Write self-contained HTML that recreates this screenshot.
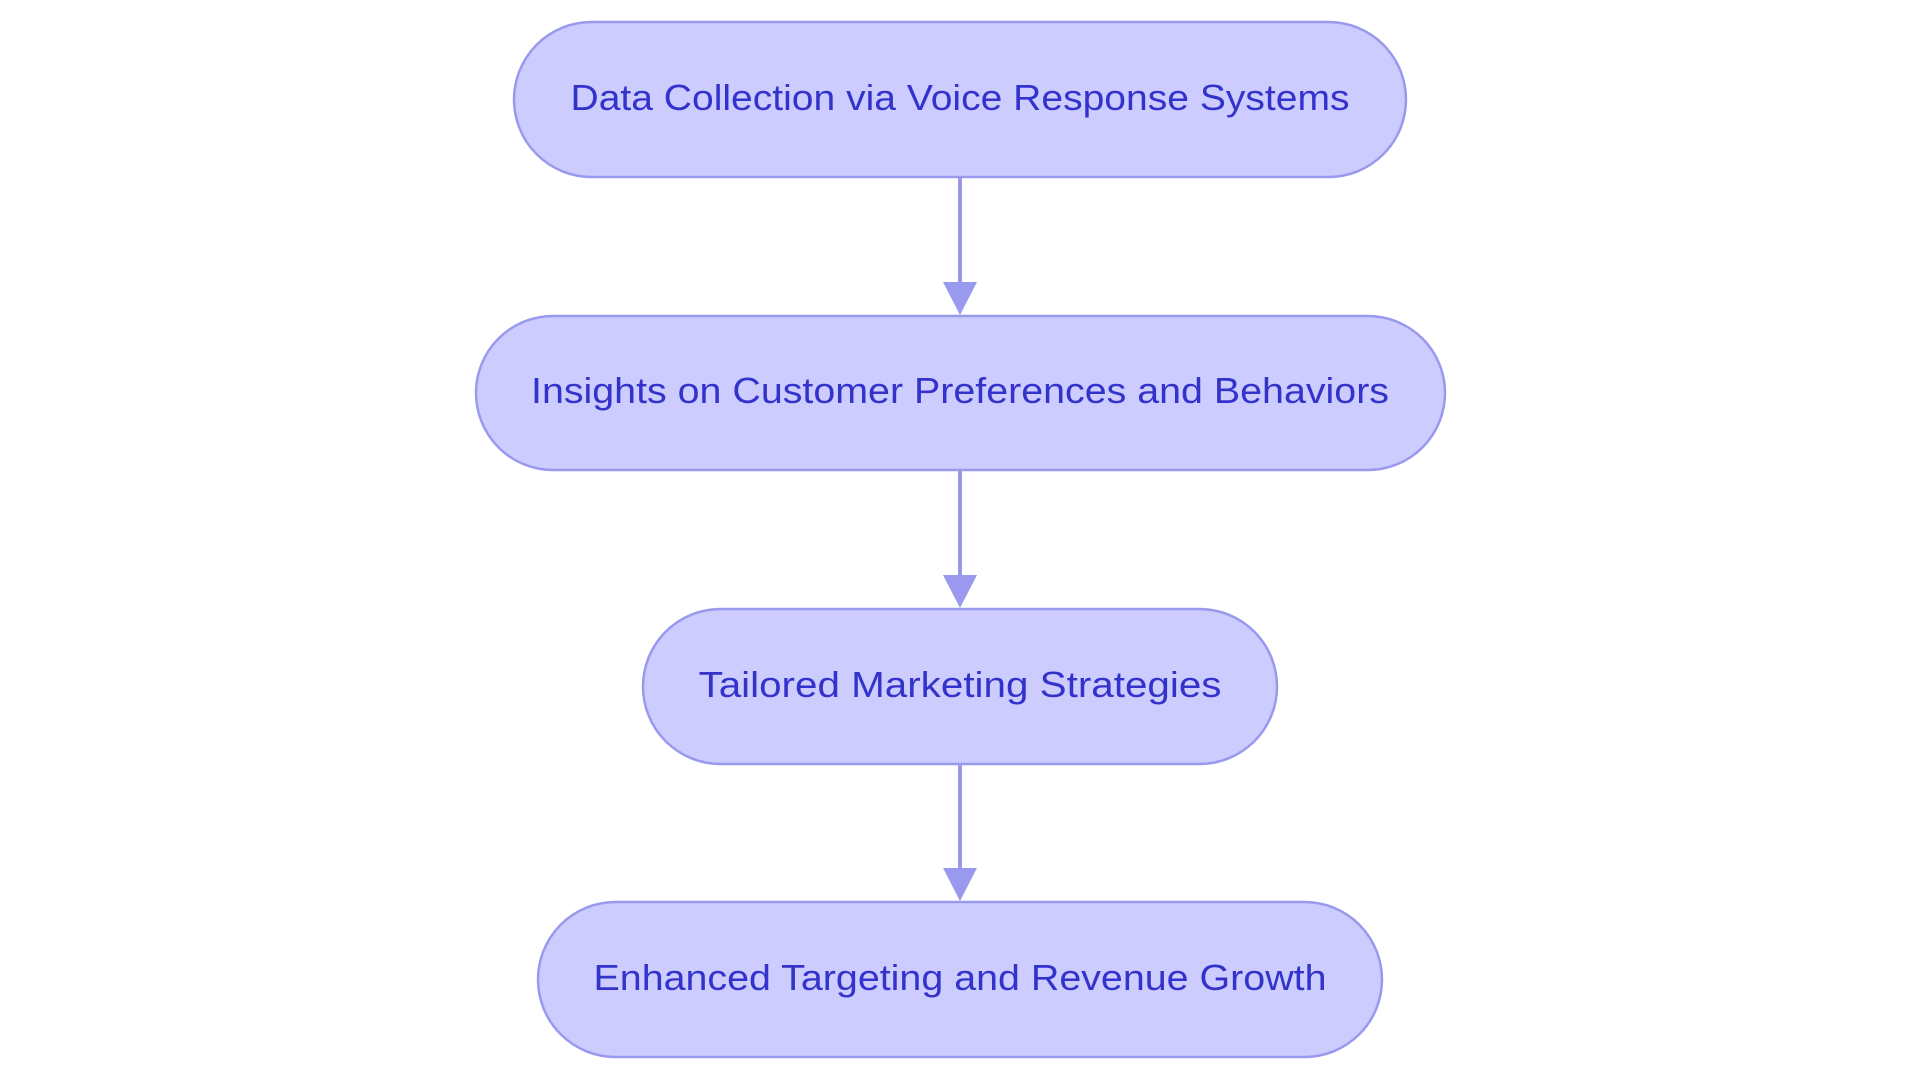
<!DOCTYPE html>
<html><head><meta charset="utf-8"><style>html,body{margin:0;padding:0;background:#fff}svg{display:block}</style></head>
<body>
<svg width="1920" height="1083" viewBox="0 0 1920 1083" xmlns="http://www.w3.org/2000/svg">
<g fill="#ccccff" stroke="#9999ee" stroke-width="2.5">
<rect x="514" y="22" width="892" height="155" rx="77.5"/>
<rect x="476" y="316" width="969" height="154" rx="77"/>
<rect x="643" y="609" width="634" height="155" rx="77.5"/>
<rect x="538" y="902" width="844" height="155" rx="77.5"/>
</g>
<g stroke="#9999ee" stroke-width="4">
<line x1="960" y1="178" x2="960" y2="285"/>
<line x1="960" y1="471" x2="960" y2="578"/>
<line x1="960" y1="765" x2="960" y2="872"/>
</g>
<g fill="#9999ee">
<polygon points="943,282 977,282 960,315"/>
<polygon points="943,575 977,575 960,608"/>
<polygon points="943,868 977,868 960,901"/>
</g>
<g font-family="Liberation Sans, sans-serif" font-size="36" fill="#3333cc" text-anchor="middle" lengthAdjust="spacingAndGlyphs">
<text x="960" y="110" textLength="779" lengthAdjust="spacingAndGlyphs">Data Collection via Voice Response Systems</text>
<text x="960" y="403" textLength="858" lengthAdjust="spacingAndGlyphs">Insights on Customer Preferences and Behaviors</text>
<text x="960" y="697" textLength="523" lengthAdjust="spacingAndGlyphs">Tailored Marketing Strategies</text>
<text x="960" y="990" textLength="733" lengthAdjust="spacingAndGlyphs">Enhanced Targeting and Revenue Growth</text>
</g>
</svg>
</body></html>
